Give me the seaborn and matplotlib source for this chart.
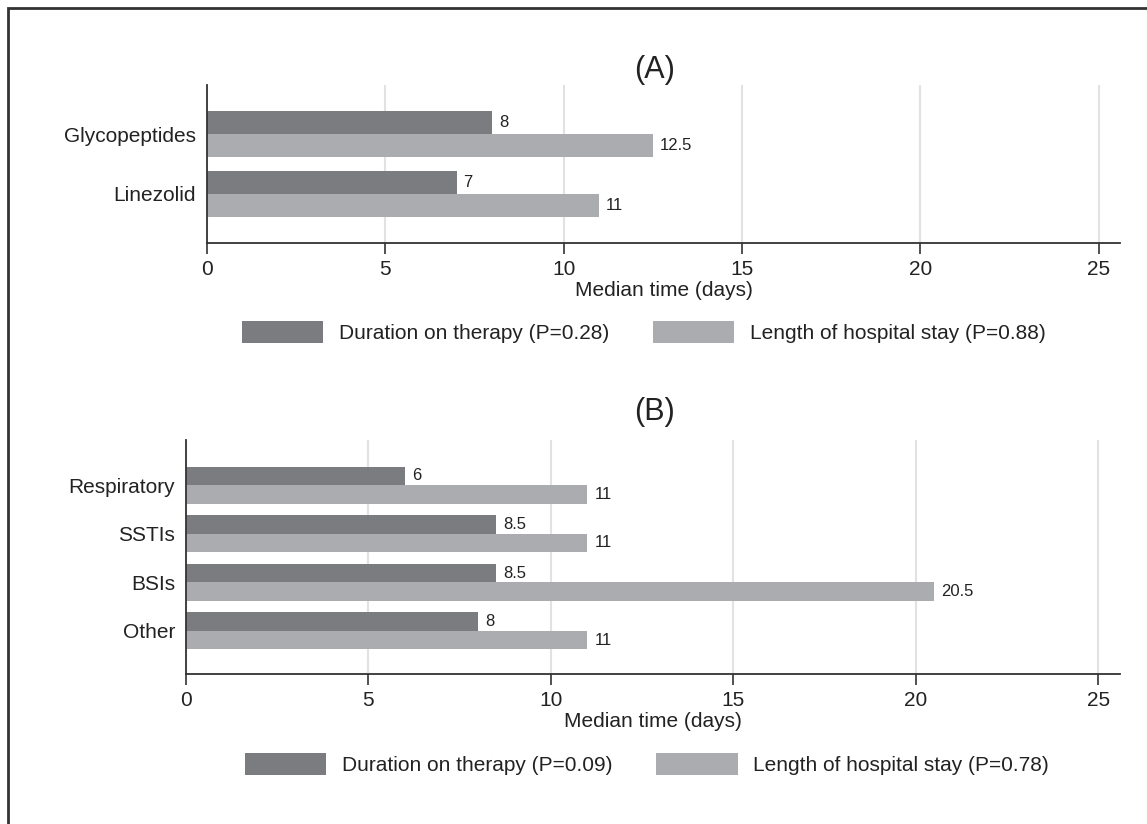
import pandas as pd
import numpy as np
import matplotlib
matplotlib.use("Agg")
import matplotlib.pyplot as plt
from matplotlib.patches import Rectangle
import seaborn as sns

# data
abx = ["Glycopeptides", "Linezolid"]
abx_therapy = [8, 7]
abx_stay = [12.5, 11]
abx_p = ["0.28", "0.88"]

infection = ["Respiratory", "SSTIs", "BSIs", "Other"]
inf_therapy = [6, 8.5, 8.5, 8]
inf_stay = [11, 11, 20.5, 11]
inf_p = ["0.09", "0.78"]

xticks = [0, 5, 10, 15, 20, 25]

dark = "#7b7c80"
light = "#abacb0"

sns.set_theme(style="white")
plt.rcParams["font.family"] = ["Liberation Sans", "DejaVu Sans"]


def long_table(cats, therapy, stay, p):
    lab1 = f"Duration on therapy (P={p[0]})"
    lab2 = f"Length of hospital stay (P={p[1]})"
    df = pd.DataFrame({
        "group": cats * 2,
        "days": therapy + stay,
        "measure": [lab1] * len(cats) + [lab2] * len(cats),
    })
    return df, [lab1, lab2]


W, H = 1147, 824
fig = plt.figure(figsize=(W / 100, H / 100), dpi=100)

# frame around the figure (open on the right and bottom, as in the scan)
fig.add_artist(Rectangle((8 / W, -0.1), 1.2, 1.1 - 8 / H, transform=fig.transFigure,
                         fill=False, edgecolor="#333333", linewidth=2))


def panel(rect, df, labels, width, ylim, title, title_y, leg_xy):
    ax = fig.add_axes(rect)
    sns.barplot(data=df, y="group", x="days", hue="measure", hue_order=labels,
                palette=[dark, light], orient="h", width=width, saturation=1,
                linewidth=0, ax=ax, errorbar=None)
    for c in ax.containers:
        ax.bar_label(c, fmt="%g", padding=5, fontsize=12, color="#222222")
    ax.set_xlim(0, 25.6)
    ax.set_ylim(*ylim)
    ax.set_xticks(xticks)
    ax.xaxis.grid(True, color="#e2e2e2", linewidth=1.5)
    ax.set_axisbelow(True)
    for s in ["top", "right"]:
        ax.spines[s].set_visible(False)
    for s in ["left", "bottom"]:
        ax.spines[s].set_color("#333333")
        ax.spines[s].set_linewidth(1.3)
    ax.tick_params(axis="x", bottom=True, length=8, width=1.2, color="#333333",
                   labelsize=15, pad=4, labelcolor="#222222")
    ax.tick_params(axis="y", left=False, length=0, labelsize=15, pad=8,
                   labelcolor="#222222")
    ax.set_xlabel("Median time (days)", fontsize=15, labelpad=2, color="#222222")
    ax.set_ylabel("")
    handles, labs = ax.get_legend_handles_labels()
    ax.get_legend().remove()
    fig.legend(handles, labs, loc="center", bbox_to_anchor=leg_xy, ncol=2,
               frameon=False, fontsize=15, handlelength=3.9, handleheight=1.25,
               handletextpad=0.76, columnspacing=2.1, labelcolor="#222222")
    fig.text(655 / W, title_y, title, ha="center", va="center",
             fontsize=22, color="#222222")
    return ax


dfa, laba = long_table(abx, abx_therapy, abx_stay, abx_p)
panel([207 / W, 1 - 243 / H, 913 / W, 158 / H], dfa, laba, 0.767,
      (1.817, -0.817), "(A)", 1 - 70 / H, (644 / W, 1 - 332 / H))

dfb, labb = long_table(infection, inf_therapy, inf_stay, inf_p)
panel([186 / W, 1 - 674 / H, 934 / W, 234 / H], dfb, labb, 0.76,
      (3.885, -0.926), "(B)", 1 - 412 / H, (647 / W, 1 - 764 / H))

plt.savefig("out.png", dpi=100)
